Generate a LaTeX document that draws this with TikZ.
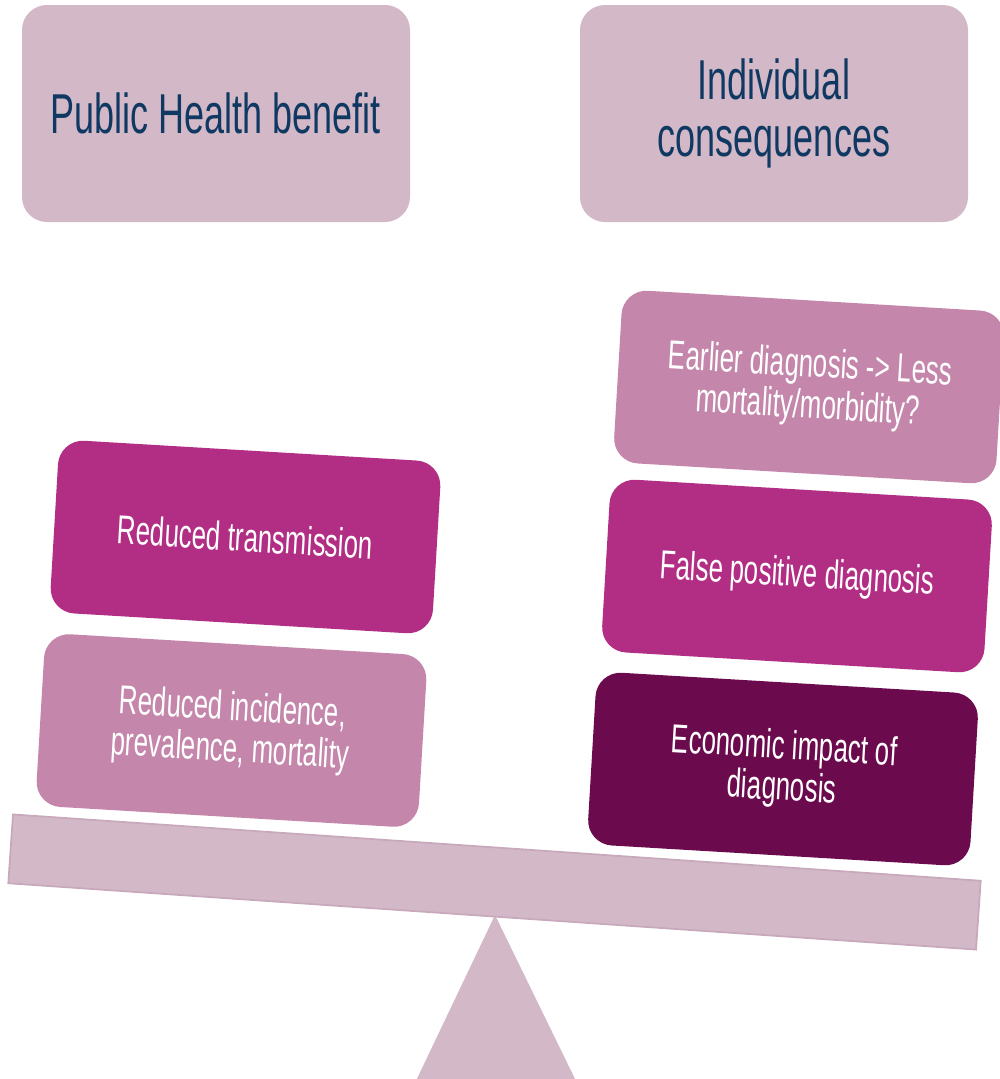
\documentclass[tikz,border=0pt]{standalone}
\usepackage{fontspec}
\setmainfont[FakeStretch=0.64]{Liberation Sans}
\usetikzlibrary{positioning}

\definecolor{paleplum}{HTML}{D3B9C7}
\definecolor{plumedge}{HTML}{C8A9BC}
\definecolor{softplum}{HTML}{C486AA}
\definecolor{brightplum}{HTML}{B12E84}
\definecolor{darkplum}{HTML}{6B0A4D}
\definecolor{headblue}{HTML}{0F3862}

\begin{document}
\begin{tikzpicture}[
	header/.style={
		rectangle, rounded corners=0.25cm,
		fill=paleplum, text=headblue,
		minimum width=3.88cm, minimum height=2.17cm,
		align=center, font=\fontsize{16}{16}\selectfont
	},
	weight/.style={
		rectangle, rounded corners=0.25cm,
		text=white, rotate=-3.4,
		minimum width=3.83cm, minimum height=1.73cm,
		align=center, font=\fontsize{11.5}{11.8}\selectfont
	},
	lever/.style={fill=paleplum, draw=plumedge, line width=0.5pt}
]
\useasboundingbox (0,0) rectangle (10,-10.79);

% Column headers
\node[header] (public) at (2.16, -1.135) {Public Health benefit};
\node[header] (indiv)  at (7.74, -1.135) {Individual\\consequences};

% Pivot and beam
\fill[paleplum] (4.95, -9.15) -- (4.14, -10.85) -- (5.78, -10.85) -- cycle;
\node[lever, rectangle, rotate=-3.92, minimum width=9.70cm, minimum height=0.69cm]
	(beam) at (4.945, -8.82) {};

% Left pan
\node[weight, fill=softplum]   (incid) at (2.315, -7.305) {Reduced incidence,\\prevalence, mortality};
\node[weight, fill=brightplum] (trans) at (2.455, -5.37)  {Reduced transmission};

% Right pan
\node[weight, fill=darkplum]   (econ)     at (7.83, -7.69)  {Economic impact of\\diagnosis};
\node[weight, fill=brightplum] (falsepos) at (7.97, -5.76)  {False positive  diagnosis};
\node[weight, fill=softplum]   (early)    at (8.09, -3.87)  {Earlier diagnosis -> Less\\mortality/morbidity?};

\end{tikzpicture}
\end{document}
